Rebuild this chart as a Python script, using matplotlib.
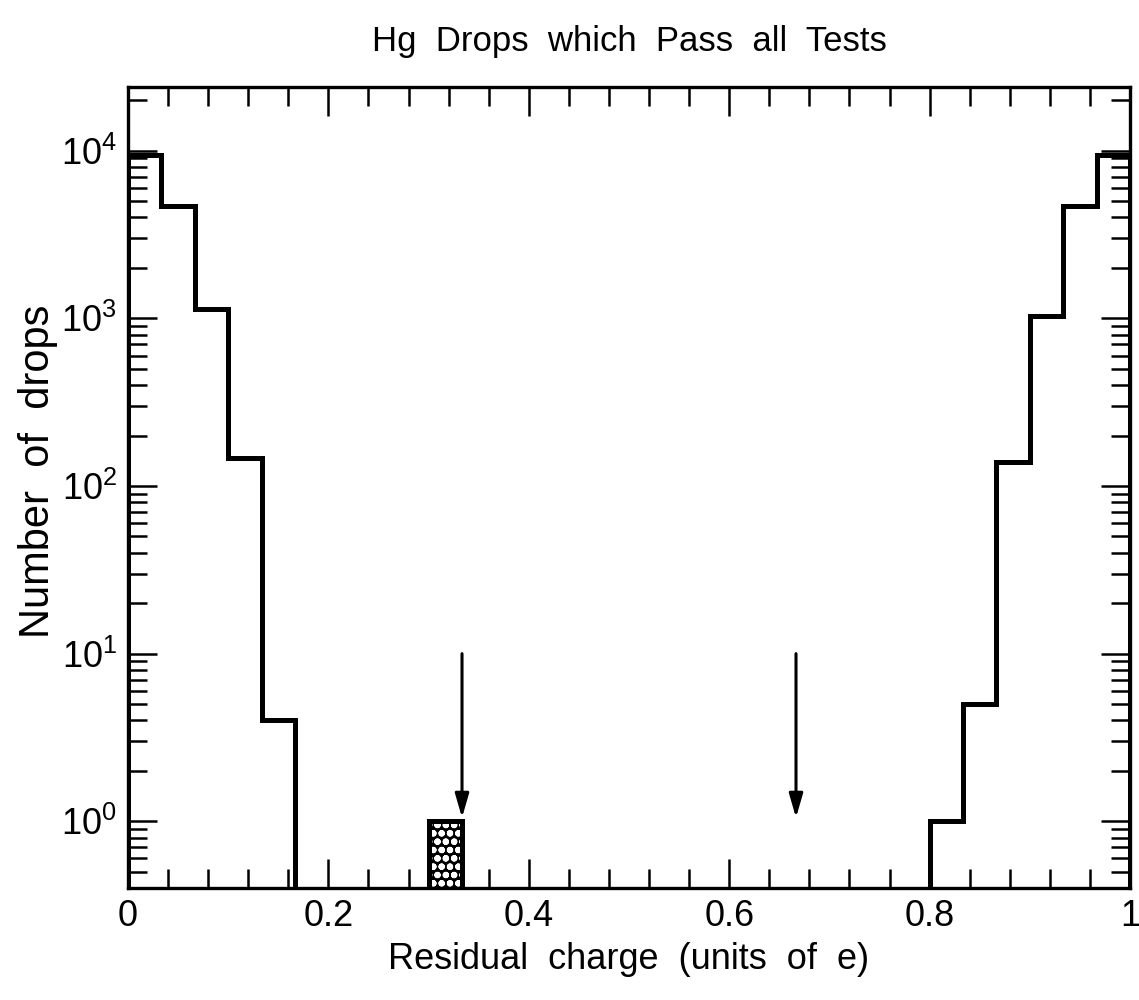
import numpy as np
import matplotlib
matplotlib.use('Agg')
import matplotlib.pyplot as plt
from matplotlib.ticker import LogLocator, MultipleLocator

plt.rcParams['font.family'] = ['Liberation Sans', 'DejaVu Sans']
plt.rcParams['mathtext.fontset'] = 'custom'
plt.rcParams['mathtext.rm'] = 'Liberation Sans'
plt.rcParams['mathtext.it'] = 'Liberation Sans'
plt.rcParams['hatch.linewidth'] = 2.2

# residual charge histogram, 30 bins of width 1/30 e
n_bins = 30
counts = [9400, 4650, 1130, 147, 4,
          0, 0, 0, 0, 1,
          0, 0, 0, 0, 0,
          0, 0, 0, 0, 0,
          0, 0, 0, 0, 1,
          5, 139, 1030, 4650, 9400]
flagged_bin = 9          # the one drop near 1/3 e (hatched)
arrow_x = [1/3, 2/3]     # fractional charge positions
arrow_top = 10
arrow_tip = 1.05

edges = np.arange(n_bins + 1) / n_bins

fig = plt.figure(figsize=(11.39, 10), dpi=100)
ax = fig.add_axes([0.1124, 0.112, 0.8797, 0.801])

# hatched bin first, then the outline on top
ax.bar(edges[flagged_bin], counts[flagged_bin], width=edges[1] - edges[0],
       align='edge', facecolor='black', edgecolor='white', hatch='oo',
       linewidth=0, zorder=2)
ax.stairs(counts, edges, color='black', linewidth=3.6, zorder=3)

for x in arrow_x:
    ax.annotate('', xy=(x, arrow_tip), xytext=(x, arrow_top),
                arrowprops=dict(arrowstyle='-|>,head_length=0.45,head_width=0.13',
                                mutation_scale=32, color='black', lw=2.2,
                                shrinkA=0, shrinkB=0))

ax.set_yscale('log')
ax.set_xlim(0, 1)
ax.set_ylim(0.4, 2.4e4)

ax.xaxis.set_major_locator(MultipleLocator(0.2))
ax.xaxis.set_minor_locator(MultipleLocator(0.04))
ax.yaxis.set_major_locator(LogLocator(base=10, numticks=10))
ax.yaxis.set_minor_locator(LogLocator(base=10, subs=np.arange(2, 10), numticks=10))
ax.xaxis.set_major_formatter(plt.FuncFormatter(lambda v, p: '%g' % v))

ax.tick_params(which='both', direction='in', top=True, right=True, width=1.8, colors='black')
ax.tick_params(which='major', length=21, labelsize=26, pad=8)
ax.tick_params(which='minor', length=14)

for s in ax.spines.values():
    s.set_linewidth(2.4)

ax.set_title('Hg  Drops  which  Pass  all  Tests', fontsize=25, pad=26)
ax.set_xlabel('Residual  charge  (units  of  e)', fontsize=26)
ax.set_ylabel('Number  of  drops', fontsize=30)
ax.xaxis.set_label_coords(0.5, -0.068)
ax.yaxis.set_label_coords(-0.07, 0.52)

fig.savefig('out.png', dpi=100)
